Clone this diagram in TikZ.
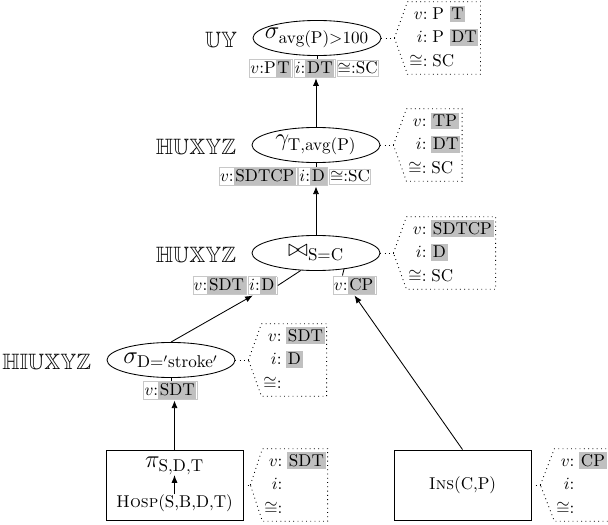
\documentclass[tikz,border=0pt]{standalone}
\usepackage{amssymb}
\usetikzlibrary{arrows.meta,calc,shapes.geometric}
\definecolor{hlgray}{RGB}{192,192,192}
\definecolor{cellframe}{RGB}{200,200,200}
\newcommand{\hstrut}{\rule[-0.8pt]{0pt}{7pt}}
\newcommand{\hl}[1]{{\setlength{\fboxsep}{1pt}\colorbox{hlgray}{\hstrut #1}}}
\newcommand{\cell}[1]{{\setlength{\fboxsep}{0.3pt}\setlength{\fboxrule}{0.4pt}\fcolorbox{cellframe}{white}{\hstrut #1}}}
\newcommand{\eqv}{$\cong$}
\newcommand{\calltab}[3]{\renewcommand{\arraystretch}{1.15}\begin{tabular}{@{}r@{\;}l@{}}$v$: & #1\\ $i$: & #2\\ \eqv: & #3\end{tabular}}
\tikzset{
  opnode/.style={ellipse, draw, line width=0.5pt, minimum width=74.9pt, minimum height=20.5pt, inner sep=0pt, font=\Large},
  rowlabel/.style={anchor=east, inner sep=0pt, font=\fontsize{13}{15}\selectfont},
  annot/.style={inner sep=0pt},
  callout/.style={anchor=west, inner xsep=1pt, inner ysep=0.3pt, minimum height=39.2pt},
  callline/.style={dotted, line width=0.5pt},
  flow/.style={line width=0.5pt, -{Latex[length=4.5pt,width=3.6pt]}},
  plain/.style={line width=0.5pt},
  srcbox/.style={draw, line width=0.5pt, minimum width=80.1pt, minimum height=41pt, inner sep=0pt}
}
\begin{document}
\begin{tikzpicture}[x=0.585pt, y=-0.585pt]
\useasboundingbox (0,0) rectangle (608,525);

% operator nodes
\node[opnode] (s1) at (317,38) {\makebox[0pt]{$\sigma_{\mathrm{avg(P)>100}}$}};
\node[opnode] (g) at (316,145) {\makebox[0pt]{$\gamma_{\mathrm{T,avg(P)}}$}};
\node[opnode] (j) at (316,253) {\makebox[0pt]{$\bowtie_{\mathrm{S=C}}$}};
\node[opnode] (s2) at (171,360) {\makebox[0pt]{$\sigma_{\mathrm{D}=\mathrm{'stroke'}}$}};

% source boxes
\node[srcbox] (hb) at (174.5,485) {};
\node[inner sep=0pt, font=\Large] (pi) at (174.5,466) {$\pi_{\mathrm{S,D,T}}$};
\node[inner sep=0pt] (hosp) at (174.5,503) {\textsc{Hosp}(S,B,D,T)};
\draw[flow] (hosp.north) -- (pi.south);
\node[srcbox] (ib) at (462.5,485) {\textsc{Ins}(C,P)};

% row labels
\node[rowlabel] (l1) at ($(s1.west)+(-15,2)$) {$\mathbb{UY}$};
\node[rowlabel] (l2) at ($(g.west)+(-15,2)$) {$\mathbb{HUXYZ}$};
\node[rowlabel] (l3) at ($(j.west)+(-15,2)$) {$\mathbb{HUXYZ}$};
\node[rowlabel] (l4) at ($(s2.west)+(-15,2)$) {$\mathbb{HIUXYZ}$};

% annotation boxes
\node[annot] (b1) at (314,68.5) {\cell{$v$:P\hl{T}}\hspace{0.6pt}\cell{$i$:\hl{DT}}\hspace{0.6pt}\cell{\eqv:SC}};
\node[annot] (b2) at (295,176.5) {\cell{$v$:\hl{SDTCP}}\hspace{0.6pt}\cell{$i$:\hl{D}}\hspace{0.6pt}\cell{\eqv:SC}};
\node[annot] (bl) at (235,285.5) {\cell{$v$:\hl{SDT}}\hspace{0.6pt}\cell{$i$:\hl{D}}};
\node[annot] (br) at (354.5,285.5) {\cell{$v$:\hl{CP}}};
\node[annot] (bs) at (170.5,390.5) {\cell{$v$:\hl{SDT}}};

% node-to-annotation lines
\draw[plain] (s1.south) -- (s1.south |- b1.north);
\draw[plain] (g.south) -- (g.south |- b2.north);
\draw[plain] (j.229) -- (bl.east);
\draw[plain] (j.-30) -- ($(br.north west)+(10,0)$);
\draw[plain] (s2.south) -- (s2.south |- bs.north);

% flow arrows
\draw[flow] (g.north) -- (g.north |- b1.south);
\draw[flow] (j.north) -- (j.north |- b2.south);
\draw[flow] (s2.north) -- ($(bl.south east)+(-25,0)$);
\draw[flow] (ib.north) -- (br.south);
\draw[flow] (hb.north) -- (hb.north |- bs.south);

% callouts
\draw[callline] (s1.east) -- ++(13,0) coordinate (t1);
\node[callout] (c1) at ($(t1)+(13,0)$) {\calltab{P \hl{T}}{P \hl{DT}}{SC}};
\draw[callline] (t1) -- (c1.north west) -- (c1.north east) -- (c1.south east) -- (c1.south west) -- cycle;

\draw[callline] (g.east) -- ++(13,0) coordinate (t2);
\node[callout] (c2) at ($(t2)+(13,0)$) {\calltab{\hl{TP}}{\hl{DT}}{SC}};
\draw[callline] (t2) -- (c2.north west) -- (c2.north east) -- (c2.south east) -- (c2.south west) -- cycle;

\draw[callline] (j.east) -- ++(13,0) coordinate (t3);
\node[callout] (c3) at ($(t3)+(13,0)$) {\calltab{\hl{SDTCP}}{\hl{D}}{SC}};
\draw[callline] (t3) -- (c3.north west) -- (c3.north east) -- (c3.south east) -- (c3.south west) -- cycle;

\draw[callline] (s2.east) -- ++(13,0) coordinate (t4);
\node[callout] (c4) at ($(t4)+(13,0)$) {\calltab{\hl{SDT}}{\hl{D}}{}};
\draw[callline] (t4) -- (c4.north west) -- (c4.north east) -- (c4.south east) -- (c4.south west) -- cycle;

\draw[callline] (hb.east) -- ++(7,0) coordinate (t5);
\node[callout] (c5) at ($(t5)+(12,0)$) {\calltab{\hl{SDT}}{}{}};
\draw[callline] (t5) -- (c5.north west) -- (c5.north east) -- (c5.south east) -- (c5.south west) -- cycle;

\draw[callline] (ib.east) -- ++(9,0) coordinate (t6);
\node[callout] (c6) at ($(t6)+(14,0)$) {\calltab{\hl{CP}}{}{}\hspace{40pt}};
\draw[callline] (t6) -- (c6.north west) -- (c6.north east) -- (c6.south east) -- (c6.south west) -- cycle;
\end{tikzpicture}
\end{document}
